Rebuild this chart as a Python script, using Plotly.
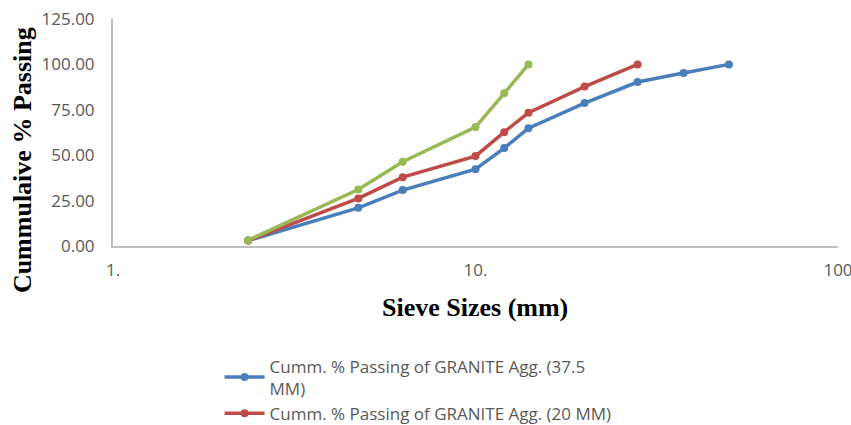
import plotly.graph_objects as go

sieve_37 = [2.36, 4.75, 6.3, 10, 12, 14, 20, 28, 37.5, 50]
pass_37 = [3.0, 21.0, 30.8, 42.3, 53.9, 64.9, 78.7, 90.3, 95.3, 100.0]

sieve_20 = [2.36, 4.75, 6.3, 10, 12, 14, 20, 28]
pass_20 = [3.0, 26.2, 37.9, 49.5, 62.7, 73.4, 87.8, 100.0]

sieve_12 = [2.36, 4.75, 6.3, 10, 12, 14]
pass_12 = [3.2, 31.1, 46.4, 65.5, 84.1, 100.0]

name_37 = "Cumm. % Passing of GRANITE Agg. (37.5<br>MM)"
name_20 = "Cumm. % Passing of GRANITE Agg. (20 MM)"
name_12 = "Cumm. % Passing of GRANITE Agg. (12.5 MM)"

y_ticks = [0, 25, 50, 75, 100, 125]
x_ticks = [1, 10, 100]
x_ticktext = ["1.", "10.", "100"]

fig = go.Figure()
for xs, ys, nm, col, show in [
    (sieve_37, pass_37, name_37, "#4A7EBB", True),
    (sieve_20, pass_20, name_20, "#BE4B48", True),
    (sieve_12, pass_12, name_12, "#98B954", False),
]:
    fig.add_trace(go.Scatter(x=xs, y=ys, name=nm, mode="lines+markers",
                             line=dict(color=col, width=3.5),
                             marker=dict(color=col, size=8),
                             showlegend=show))

tick_font = dict(family="Open Sans", size=17, color="#595959")
fig.update_layout(
    width=851, height=425,
    margin=dict(l=113, r=13, t=19, b=178.5, autoexpand=False),
    paper_bgcolor="white", plot_bgcolor="white",
    xaxis=dict(type="log", range=[0, 2], tickvals=x_ticks, ticktext=x_ticktext,
               showgrid=False, zeroline=False, showline=True, linecolor="#BFBFBF",
               linewidth=2, ticks="", tickfont=tick_font, automargin=False,
               ticklabeloverflow="allow", ticklabelstandoff=8),
    yaxis=dict(range=[0, 125], tickvals=y_ticks, tickformat=".2f",
               showgrid=False, zeroline=False, showline=True, linecolor="#BFBFBF",
               linewidth=2, ticks="", tickfont=tick_font, automargin=False,
               ticklabelstandoff=13, ticklabeloverflow="allow"),
    legend=dict(x=0.147, y=-0.451, xanchor="left", yanchor="top",
                font=dict(family="Open Sans", size=17, color="#595959"),
                tracegroupgap=0, itemwidth=40, bgcolor="rgba(0,0,0,0)"),
    showlegend=True,
)
fig.add_annotation(text="Cummulaive % Passing", xref="paper", yref="paper",
                   x=-0.125, y=0.38, textangle=-90, showarrow=False,
                   xanchor="center", yanchor="middle",
                   font=dict(family="Liberation Serif", size=26, color="black", weight="bold"))
fig.add_annotation(text="Sieve Sizes (mm)", xref="paper", yref="paper",
                   x=0.499, y=-0.27, showarrow=False,
                   xanchor="center", yanchor="middle",
                   font=dict(family="Liberation Serif", size=26, color="black", weight="bold"))

fig.write_html("out.html", config={"displayModeBar": False},
               post_script="document.body.style.margin='0';document.body.style.overflow='hidden';")
